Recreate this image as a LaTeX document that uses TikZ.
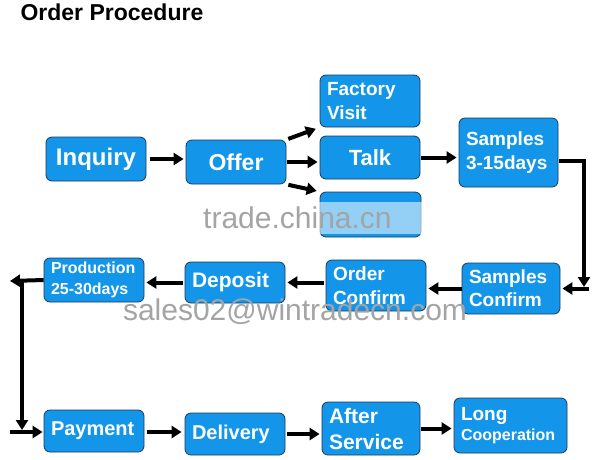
\documentclass[tikz,border=0pt]{standalone}
\usepackage{fontspec}
\setmainfont{Liberation Sans}
\usetikzlibrary{arrows.meta}
\definecolor{OPBlue}{HTML}{1396EA}
\definecolor{OPEdge}{HTML}{1B3A5C}
\definecolor{OPMark}{HTML}{A4A4A4}

\begin{document}
\begin{tikzpicture}[x=1pt,y=-1pt,
  stepbox/.style={draw=OPEdge,line width=.8pt,fill=OPBlue,rounded corners=6pt,
    text=white,align=left,inner xsep=7pt,inner ysep=0pt},
  flow/.style={line width=4pt,-{Triangle[length=10pt,width=12pt]}},
  wmark/.style={text=OPMark,inner xsep=3pt,inner ysep=0pt}]
\path[use as bounding box] (0,0) rectangle (596,459);
\fill[white] (0,0) rectangle (596,459);
\node[anchor=base west,font=\bfseries\fontsize{23}{27}\selectfont] (title) at (17,20) {Order Procedure};
% top row
\node[stepbox,text width=86pt,minimum height=44pt,align=center,font=\bfseries\fontsize{24}{28}\selectfont] (inquiry) at (96,159) {Inquiry};
\node[stepbox,text width=86pt,minimum height=44pt,align=center,font=\bfseries\fontsize{23}{27}\selectfont] (offer) at (236,162) {Offer};
\node[stepbox,text width=86pt,minimum height=52pt,font=\bfseries\fontsize{19}{24}\selectfont] (visit) at (370,101) {Factory\\Visit};
\node[stepbox,text width=86pt,minimum height=43pt,align=center,font=\bfseries\fontsize{22}{26}\selectfont] (talk) at (370,157.5) {Talk};
\node[stepbox,text width=87pt,minimum height=45pt] (extra) at (370.5,214.5) {};
\node[stepbox,text width=85pt,minimum height=69pt,font=\bfseries\fontsize{19}{24}\selectfont] (samples) at (508.5,152.5) {Samples\\3-15days};
% middle row
\node[stepbox,text width=84pt,minimum height=51pt,font=\bfseries\fontsize{19}{23}\selectfont] (sconfirm) at (511,288.5) {Samples\\Confirm};
\node[stepbox,text width=86pt,minimum height=51pt,font=\bfseries\fontsize{19}{24}\selectfont] (oconfirm) at (376,285.5) {Order\\Confirm};
\node[stepbox,text width=86pt,minimum height=41pt,font=\bfseries\fontsize{21}{25}\selectfont] (deposit) at (235,282.5) {Deposit};
\node[stepbox,text width=86pt,minimum height=44pt,font=\bfseries\fontsize{16}{21}\selectfont] (production) at (94,280) {Production\\25-30days};
% bottom row
\node[stepbox,text width=86pt,minimum height=42pt,font=\bfseries\fontsize{20}{24}\selectfont] (payment) at (94,431) {Payment};
\node[stepbox,text width=86pt,minimum height=42pt,font=\bfseries\fontsize{20}{24}\selectfont] (delivery) at (235,434) {Delivery};
\node[stepbox,text width=84pt,minimum height=53pt,font=\bfseries\fontsize{21}{26}\selectfont] (aservice) at (371,428.5) {After\\Service};
\node[stepbox,text width=99pt,minimum height=55pt,font=\bfseries\fontsize{19}{20}\selectfont] (longcoop) at (510.5,425.5) {Long\\{\fontsize{16}{20}\selectfont Cooperation}};
% connectors
\coordinate (turn) at (584,287);
\coordinate (left) at (10,281);
\coordinate (drop) at (22,430);
\coordinate (entry) at (10,432);
\draw[flow,shorten <=4pt,shorten >=2pt] (inquiry.east) -- (inquiry.east -| offer.west);
\draw[flow,shorten <=2pt,shorten >=4pt] (offer.north east) -- (visit.south west);
\draw[flow,shorten <=1pt,shorten >=2pt] (offer.east) -- (offer.east -| talk.west);
\draw[flow,shorten <=2pt,shorten >=3pt] (offer.south east) -- (extra.north west);
\draw[flow,shorten <=1pt,shorten >=2pt] (talk.east) -- (talk.east -| samples.west);
\draw[flow,shorten <=1pt] ([yshift=-8pt]samples.east) -| (turn);
\draw[flow,shorten >=2pt] ([xshift=5pt]turn |- sconfirm.east) -- (sconfirm.east);
\draw[flow,shorten >=2pt] (sconfirm.west) -- (sconfirm.west -| oconfirm.east);
\draw[flow,shorten <=2pt,shorten >=2pt] (oconfirm.west |- deposit.east) -- (deposit.east);
\draw[flow,shorten <=2pt,shorten >=2pt] (deposit.west) -- (deposit.west -| production.east);
\draw[flow] (production.west) -- (left);
\draw[flow] (production.west -| drop) -- (drop);
\draw[flow,shorten >=1pt] (entry) -- (entry -| payment.west);
\draw[flow,shorten <=3pt,shorten >=3pt] ([yshift=-1pt]payment.east) -- ([yshift=-1pt]payment.east -| delivery.west);
\draw[flow,shorten <=2pt,shorten >=2pt] (delivery.east) -- (delivery.east -| aservice.west);
\draw[flow,shorten <=1pt,shorten >=2pt] (aservice.east) -- (aservice.east -| longcoop.west);
% watermarks
\node[wmark,anchor=west,text width=216pt,minimum height=32pt,fill=white,fill opacity=.55,text opacity=1,font=\fontsize{30}{32}\selectfont] (tradewm) at (200,218) {trade.china.cn};
\node[wmark,font=\fontsize{30}{32}\selectfont] (saleswm) at (295,312) {sales02@wintradecn.com};
\end{tikzpicture}
\end{document}
